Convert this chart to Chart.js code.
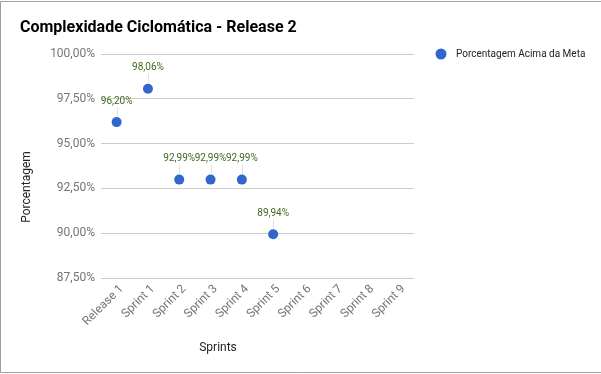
<!DOCTYPE html>
<html>
<head>
<meta charset="utf-8">
<script src="https://cdn.jsdelivr.net/npm/chart.js@4.4.1/dist/chart.umd.min.js"></script>
<style>
  html, body { margin: 0; padding: 0; background: #fff; }
  #wrap { width: 601px; height: 374px; position: relative; }
</style>
</head>
<body>
<div id="wrap"><canvas id="cc"></canvas></div>
<script>
// Categories on the x axis
const sprints = ['Release 1', 'Sprint 1', 'Sprint 2', 'Sprint 3', 'Sprint 4',
                 'Sprint 5', 'Sprint 6', 'Sprint 7', 'Sprint 8', 'Sprint 9'];

// Percentage above the goal for each sprint (empty sprints have no value)
const aboveGoal = [96.20, 98.06, 92.99, 92.99, 92.99, 89.94, null, null, null, null];

// Y axis tick values
const yTicks = [87.5, 90, 92.5, 95, 97.5, 100];

const chartTitle = 'Complexidade Ciclomática - Release 2';
const seriesName = 'Porcentagem Acima da Meta';
const xTitle = 'Sprints';
const yTitle = 'Porcentagem';

const pointColor = '#3366cc';
const labelColor = '#3d6b22';

function pct(v) {
  return v.toFixed(2).replace('.', ',') + '%';
}

// Draws frame, title, axis titles, legend and point labels
const decorations = {
  id: 'decorations',
  beforeDraw(chart) {
    const ctx = chart.ctx;
    ctx.save();
    ctx.fillStyle = '#fff';
    ctx.fillRect(0, 0, chart.width, chart.height);
    ctx.strokeStyle = '#9e9e9e';
    ctx.lineWidth = 1;
    ctx.beginPath();
    ctx.moveTo(0.5, 1.5); ctx.lineTo(chart.width, 1.5);
    ctx.moveTo(0.5, 1.5); ctx.lineTo(0.5, 372.5);
    ctx.moveTo(0.5, 372.5); ctx.lineTo(chart.width, 372.5);
    ctx.stroke();
    ctx.restore();
  },
  afterDatasetsDraw(chart) {
    const ctx = chart.ctx;
    ctx.save();

    // title
    ctx.fillStyle = '#000';
    ctx.font = 'bold 16px Roboto';
    ctx.textAlign = 'left';
    ctx.textBaseline = 'middle';
    ctx.fillText(chartTitle, 20, 28);

    // axis titles
    ctx.fillStyle = '#222';
    ctx.font = '12px Roboto';
    ctx.textAlign = 'center';
    ctx.fillText(xTitle, 218, 348);
    ctx.save();
    ctx.translate(27, 187);
    ctx.rotate(-Math.PI / 2);
    ctx.fillText(yTitle, 0, 0);
    ctx.restore();

    // legend
    ctx.fillStyle = pointColor;
    ctx.beginPath();
    ctx.arc(441, 54, 5.5, 0, Math.PI * 2);
    ctx.fill();
    ctx.fillStyle = '#222';
    ctx.font = '10px Roboto';
    ctx.textAlign = 'left';
    ctx.fillText(seriesName, 456, 54);

    // value labels with leader lines
    const meta = chart.getDatasetMeta(0);
    ctx.font = '10px Roboto';
    ctx.textAlign = 'center';
    meta.data.forEach((pt, i) => {
      const v = aboveGoal[i];
      if (v === null || pt.skip) return;
      ctx.strokeStyle = '#e0e0e0';
      ctx.lineWidth = 1;
      ctx.beginPath();
      ctx.moveTo(Math.round(pt.x) + 0.5, pt.y - 6);
      ctx.lineTo(Math.round(pt.x) + 0.5, pt.y - 15);
      ctx.stroke();
      ctx.fillStyle = labelColor;
      ctx.fillText(pct(v), pt.x, pt.y - 21);
    });
    ctx.restore();
  }
};

const ctx = document.getElementById('cc').getContext('2d');
new Chart(ctx, {
  type: 'line',
  data: {
    labels: sprints,
    datasets: [{
      label: seriesName,
      data: aboveGoal,
      showLine: false,
      pointRadius: 5,
      pointHoverRadius: 5,
      pointBackgroundColor: pointColor,
      pointBorderWidth: 0,
      borderColor: pointColor
    }]
  },
  options: {
    responsive: true,
    maintainAspectRatio: false,
    animation: false,
    layout: {
      padding: { top: 54, right: 187, bottom: 0, left: 0 }
    },
    plugins: {
      legend: { display: false },
      title: { display: false },
      tooltip: { enabled: false }
    },
    scales: {
      x: {
        offset: true,
        grid: { display: false, drawTicks: false },
        border: { display: false },
        ticks: {
          color: '#757575',
          font: { family: 'Roboto', size: 12 },
          minRotation: 45,
          maxRotation: 45,
          padding: 4,
          labelOffset: 5,
          autoSkip: false
        },
        afterFit(scale) { scale.height = 96; }
      },
      y: {
        min: 87.5,
        max: 100,
        grid: { color: '#cccccc', drawTicks: false },
        border: { display: false },
        afterBuildTicks(scale) {
          scale.ticks = yTicks.map(v => ({ value: v }));
        },
        ticks: {
          color: '#757575',
          font: { family: 'Roboto', size: 12 },
          padding: 6,
          callback: v => pct(v)
        },
        afterFit(scale) { scale.width = 101; }
      }
    }
  },
  plugins: [decorations]
});
</script>
</body>
</html>
